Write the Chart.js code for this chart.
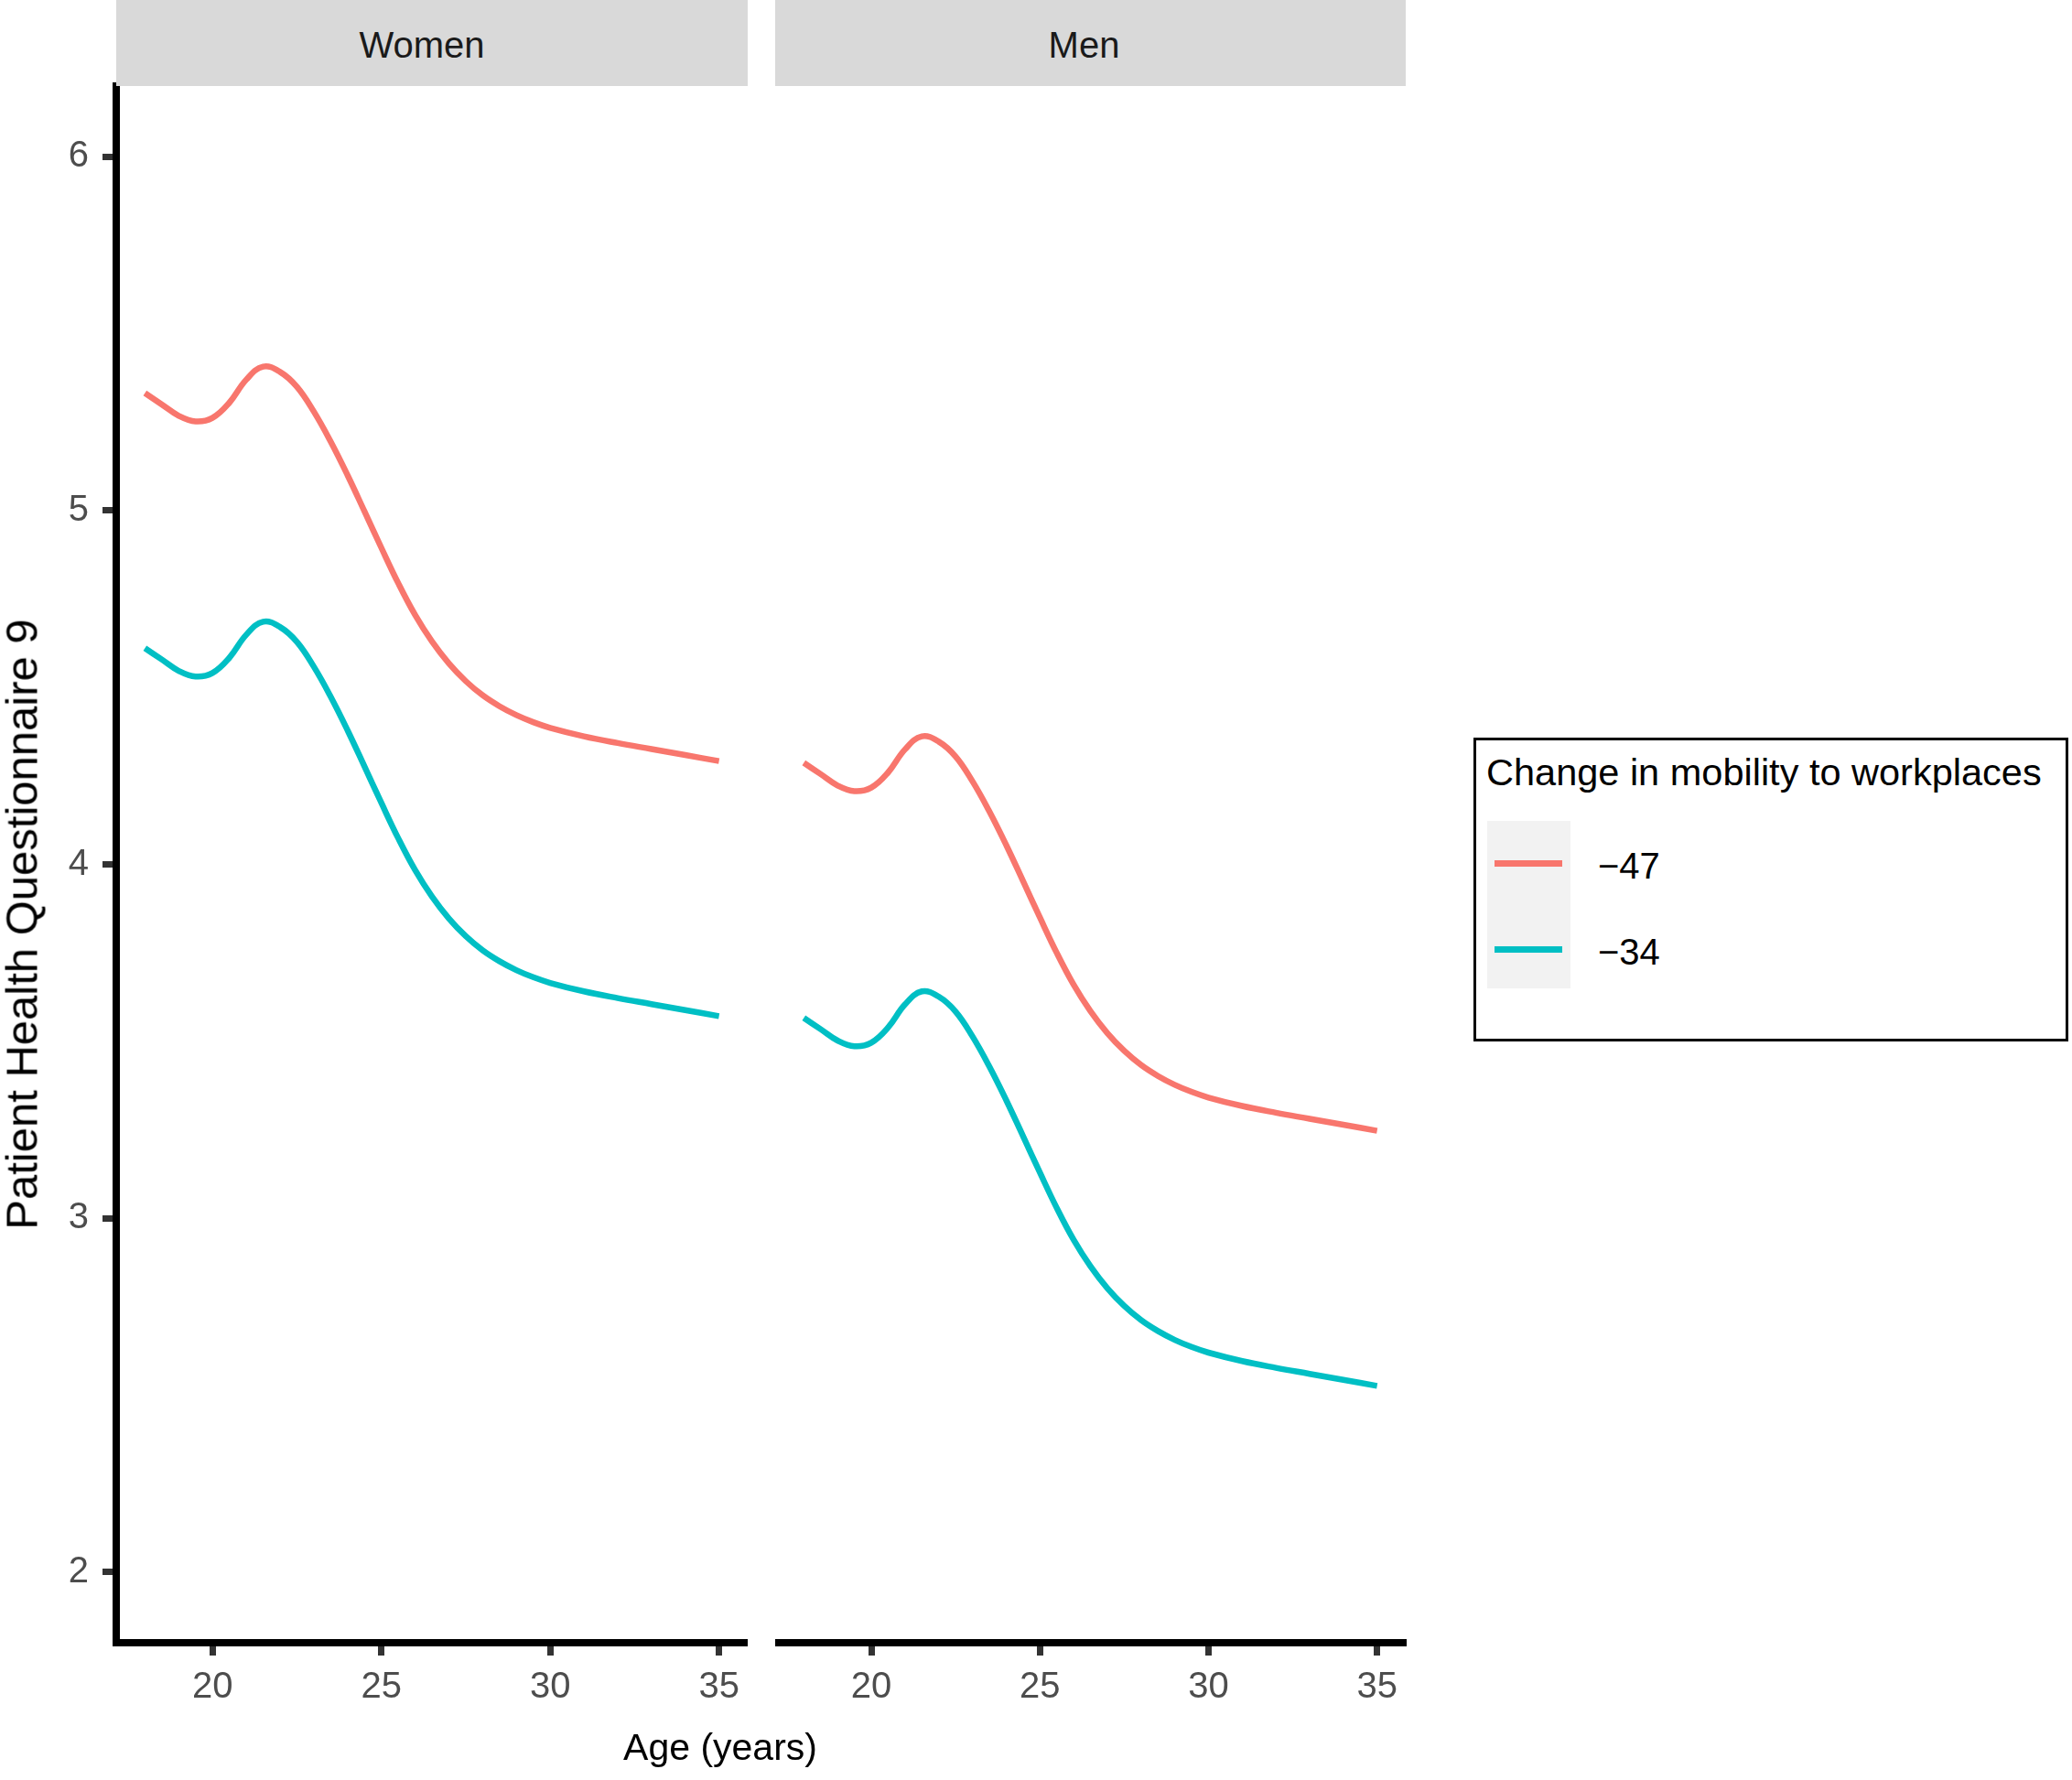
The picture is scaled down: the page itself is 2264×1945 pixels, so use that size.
<!DOCTYPE html>
<html lang="en">
<head>
<meta charset="UTF-8">
<title>Patient Health Questionnaire 9 by age</title>
<script src="https://cdn.jsdelivr.net/npm/chart.js@4.4.1/dist/chart.umd.min.js"></script>
<style>
  body { margin: 0; background: #fff; font-family: 'Liberation Sans', Arial, sans-serif; }
  #wrap { position: relative; width: 2264px; height: 1945px; overflow: hidden; }
  canvas { position: absolute; top: 0; }
  .strip { position: absolute; top: 0; height: 94px; background: #d9d9d9; color: #1a1a1a; font-size: 40px;
           line-height: 1; display: flex; align-items: center; justify-content: center; padding-top: 4px; box-sizing: border-box; z-index: 2; }
  .strip span { position: relative; }
  .lbl { position: absolute; line-height: 1; white-space: nowrap; transform: translate(-50%, -50%); color: #000; }
  .lft { position: absolute; line-height: 1; white-space: nowrap; transform: translateY(-50%); color: #000; font-size: 40px; }
  #legend { position: absolute; left: 1610px; top: 806px; width: 650px; height: 332px; border: 3px solid #000; box-sizing: border-box; }
  .keybg { position: absolute; left: 1625px; top: 897px; width: 91px; height: 183px; background: #f2f2f2; }
  .key { position: absolute; left: 1633px; width: 74px; height: 7px; }
</style>
</head>
<body>
<div id="wrap">
  <canvas id="women" width="817" height="1945" style="left:0px;width:817px;height:1945px"></canvas>
  <canvas id="men" width="703" height="1945" style="left:847px;width:703px;height:1945px"></canvas>

  <div class="strip" style="left:127px;width:690px"><span style="left:-11px">Women</span></div>
  <div class="strip" style="left:847px;width:689px"><span style="left:-7px">Men</span></div>

  <div class="lbl" style="left:24px;top:1010px;font-size:49px;transform:translate(-50%,-50%) rotate(-90deg)">Patient Health Questionnaire 9</div>
  <div class="lbl" style="left:787px;top:1909px;font-size:41px">Age (years)</div>

  <div id="legend"></div>
  <div class="lft" style="left:1624px;top:844px;font-size:41.5px">Change in mobility to workplaces</div>
  <div class="keybg"></div>
  <div id="keys"></div>
</div>

<script>
  // age grid of the fitted curves
  const ages = [18, 18.5, 19, 19.5, 20, 20.5, 21, 21.5, 22, 22.5, 23, 23.5, 24, 24.5, 25,
                25.5, 26, 26.5, 27, 27.5, 28, 28.5, 29, 29.5, 30, 31, 32, 33, 34, 35];

  // women, mobility -47 / -34
  const women47 = [5.332, 5.300, 5.268, 5.252, 5.262, 5.305, 5.370, 5.407, 5.392, 5.350, 5.280, 5.195, 5.100, 4.998, 4.895,
                   4.795, 4.705, 4.630, 4.568, 4.518, 4.478, 4.447, 4.422, 4.402, 4.386, 4.362, 4.343, 4.326, 4.309, 4.292];
  const women34 = [4.611, 4.579, 4.547, 4.531, 4.541, 4.584, 4.649, 4.686, 4.671, 4.629, 4.559, 4.474, 4.379, 4.277, 4.174,
                   4.074, 3.984, 3.909, 3.847, 3.797, 3.757, 3.726, 3.701, 3.681, 3.665, 3.641, 3.622, 3.605, 3.588, 3.571];
  // men, mobility -47 / -34
  const men47 = [4.287, 4.255, 4.223, 4.207, 4.217, 4.260, 4.325, 4.362, 4.347, 4.305, 4.235, 4.150, 4.055, 3.953, 3.850,
                 3.750, 3.660, 3.585, 3.523, 3.473, 3.433, 3.402, 3.377, 3.357, 3.341, 3.317, 3.298, 3.281, 3.264, 3.247];
  const men34 = [3.566, 3.534, 3.502, 3.486, 3.496, 3.539, 3.604, 3.641, 3.626, 3.584, 3.514, 3.429, 3.334, 3.232, 3.129,
                 3.029, 2.939, 2.864, 2.802, 2.752, 2.712, 2.681, 2.656, 2.636, 2.620, 2.596, 2.577, 2.560, 2.543, 2.526];

  const seriesLabels = ['\u221247', '\u221234'];
  const seriesColors = ['#F8766D', '#00BFC4'];
  const xTicks = [20, 25, 30, 35];
  const yTicks = [2, 3, 4, 5, 6];

  const tickFont = { family: "'Liberation Sans', Arial, sans-serif", size: 40, lineHeight: 1 };

  function toPoints(arr) {
    return ages.map((a, i) => ({ x: a, y: arr[i] }));
  }

  function makePanel(id, series, showY, pad) {
    const yOpts = {
      type: 'linear', min: 1.8, max: 6.2, display: showY,
      afterBuildTicks: s => { s.ticks = yTicks.map(v => ({ value: v })); },
      grid: { drawOnChartArea: false, drawTicks: true, tickLength: 15, tickWidth: 7, tickColor: '#333333' },
      border: { display: true, color: '#000000', width: 8 },
      ticks: { padding: 15, color: '#4d4d4d', font: tickFont }
    };
    if (showY) yOpts.afterFit = s => { s.width = 127; s.paddingTop = 0; s.paddingBottom = 0; };

    return new Chart(document.getElementById(id), {
      type: 'line',
      data: {
        datasets: series.map((arr, i) => ({
          label: seriesLabels[i],
          data: toPoints(arr),
          borderColor: seriesColors[i],
          borderWidth: 6.5,
          pointRadius: 0,
          fill: false,
          tension: 0.4
        }))
      },
      options: {
        responsive: false,
        animation: false,
        events: [],
        layout: { padding: pad },
        plugins: { legend: { display: false }, tooltip: { enabled: false } },
        scales: {
          x: {
            type: 'linear', min: 17.15, max: 35.85,
            afterBuildTicks: s => { s.ticks = xTicks.map(v => ({ value: v })); },
            // fixed axis height, and no extra room for edge labels
            afterFit: s => { s.height = 150; s.paddingLeft = 0; s.paddingRight = 0; },
            grid: { drawOnChartArea: false, drawTicks: true, tickLength: 14, tickWidth: 7, tickColor: '#333333' },
            border: { display: true, color: '#000000', width: 8 },
            ticks: { padding: 15, color: '#4d4d4d', font: tickFont, maxRotation: 0, autoSkip: false }
          },
          y: yOpts
        }
      }
    });
  }

  makePanel('women', [women47, women34], true, { left: 0, top: 94, right: 0, bottom: 0 });
  makePanel('men', [men47, men34], false, { left: 0, top: 94, right: 14, bottom: 0 });

  // legend keys
  const keyY = [943, 1037];
  const keys = document.getElementById('keys');
  seriesLabels.forEach((lab, i) => {
    const k = document.createElement('div');
    k.className = 'key';
    k.style.top = (keyY[i] - 3) + 'px';
    k.style.background = seriesColors[i];
    keys.appendChild(k);
    const t = document.createElement('div');
    t.className = 'lft';
    t.style.left = '1746px';
    t.style.top = (keyY[i] + 3) + 'px';
    t.textContent = lab;
    keys.appendChild(t);
  });
</script>
</body>
</html>
